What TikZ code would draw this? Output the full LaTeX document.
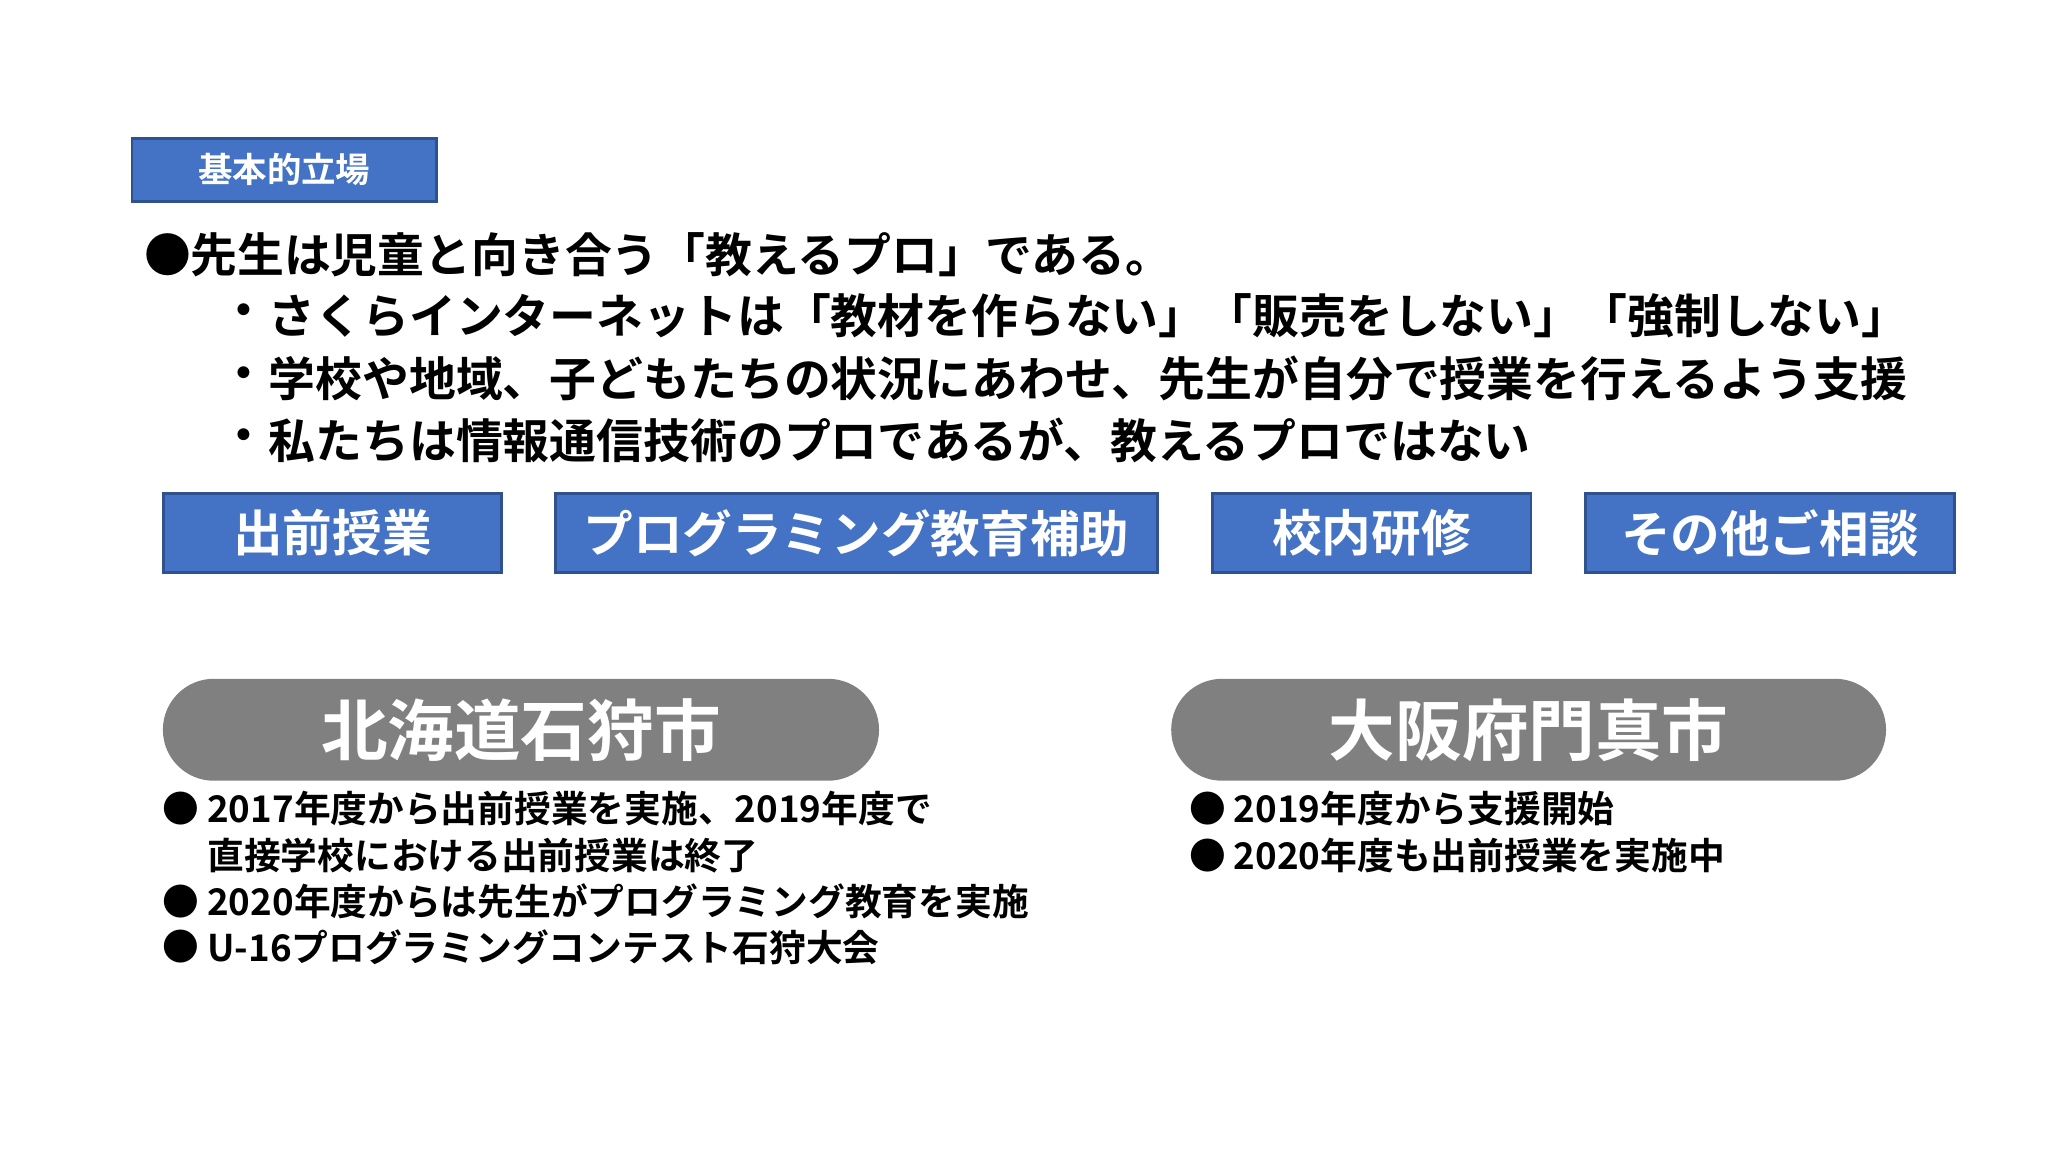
\documentclass[tikz,border=0pt]{standalone}
\usepackage{fontspec}
\setmainfont{Noto Sans CJK JP}[BoldFont={* Bold}]
\definecolor{bl}{HTML}{4472C4}
\definecolor{bld}{HTML}{2F528F}
\definecolor{gr}{HTML}{808080}
\tikzset{
 bbox/.style={fill=bl,draw=bld,line width=0.6pt,text=white,font=\fontsize{10.8pt}{12pt}\selectfont\bfseries,anchor=north west,inner sep=0pt,align=center},
 gbox/.style={fill=gr,rounded corners=0.39cm,text=white,font=\fontsize{14.5pt}{16pt}\selectfont\bfseries,anchor=north west,inner sep=0pt,align=center},
 main/.style={anchor=west,inner sep=0pt,font=\fontsize{10.2pt}{12pt}\selectfont\bfseries},
 small/.style={anchor=west,inner sep=0pt,font=\fontsize{8pt}{10pt}\selectfont\bfseries}
}
\begin{document}
\begin{tikzpicture}[x=0.01cm,y=-0.01cm]
\useasboundingbox[fill=white] (0,0) rectangle (1568,882);
\node[bbox,minimum width=2.33cm,minimum height=0.48cm,font=\fontsize{7.5pt}{9pt}\selectfont\bfseries] (k) at (100,105) {基本的立場};
\node[main] (b0) at (110,195) {●};
\node[main] (t0) at (145,195) {先生は児童と向き合う「教えるプロ」である。};
\node[main] (b1) at (168,242) {・};
\node[main] (t1) at (205,242) {さくらインターネットは「教材を作らない」「販売をしない」「強制しない」};
\node[main] (b2) at (168,290) {・};
\node[main] (t2) at (205,290) {学校や地域、子どもたちの状況にあわせ、先生が自分で授業を行えるよう支援};
\node[main] (b3) at (168,337) {・};
\node[main] (t3) at (205,337) {私たちは情報通信技術のプロであるが、教えるプロではない};
\node[bbox,minimum width=2.59cm,minimum height=0.6cm] (p1) at (124,377) {出前授業};
\node[bbox,minimum width=4.61cm,minimum height=0.6cm] (p2) at (424,377) {プログラミング教育補助};
\node[bbox,minimum width=2.44cm,minimum height=0.6cm] (p3) at (927,377) {校内研修};
\node[bbox,minimum width=2.82cm,minimum height=0.6cm] (p4) at (1213,377) {その他ご相談};
\node[gbox,minimum width=5.48cm,minimum height=0.78cm] (g1) at (124,519) {北海道石狩市};
\node[gbox,minimum width=5.47cm,minimum height=0.78cm] (g2) at (896,519) {大阪府門真市};
\node[small] (lb1) at (124,619) {●};
\node[small] (l1) at (158,619) {2017年度から出前授業を実施、2019年度で};
\node[small] (l1b) at (158,655) {直接学校における出前授業は終了};
\node[small] (lb2) at (124,690) {●};
\node[small] (l2) at (158,690) {2020年度からは先生がプログラミング教育を実施};
\node[small] (lb3) at (124,725) {●};
\node[small] (l3) at (158,725) {U-16プログラミングコンテスト石狩大会};
\node[small] (rb1) at (910,619) {●};
\node[small] (r1) at (944,619) {2019年度から支援開始};
\node[small] (rb2) at (910,655) {●};
\node[small] (r2) at (944,655) {2020年度も出前授業を実施中};
\end{tikzpicture}
\end{document}
